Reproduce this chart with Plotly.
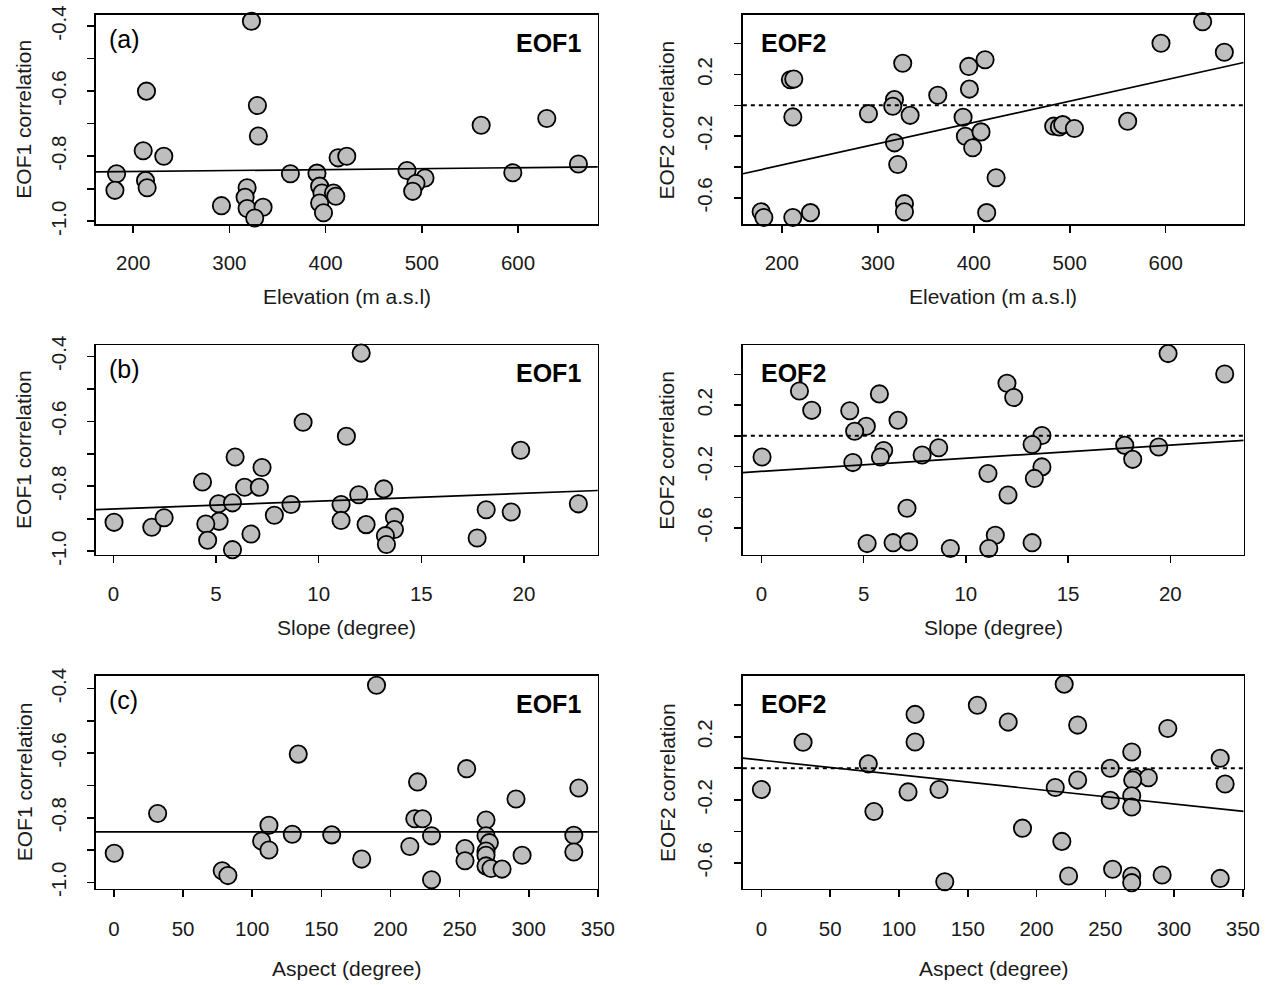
import plotly.graph_objects as go

# ---------------- data ----------------
elev_eof1_x = [322.9, 213.8, 329.1, 330.1, 210.4, 231.8, 182.7, 181.0, 212.8, 214.5, 291.7, 318.4, 316.3, 318.4, 335.0, 326.3, 363.4,
               391.0, 393.8, 396.2, 393.8, 397.8, 408.2, 410.6, 413.0, 422.0, 484.6, 503.3, 493.9, 490.5, 561.7, 629.9, 594.6, 662.8]
elev_eof1_y = [-0.385, -0.600, -0.644, -0.738, -0.783, -0.800, -0.854, -0.905, -0.875, -0.897, -0.952, -0.897, -0.926, -0.961, -0.957, -0.990, -0.854,
               -0.852, -0.892, -0.913, -0.944, -0.974, -0.913, -0.923, -0.805, -0.800, -0.844, -0.867, -0.884, -0.908, -0.705, -0.684, -0.851, -0.824]

elev_eof2_x = [638.5, 595.1, 661.1, 326.0, 394.8, 411.8, 209.0, 212.5, 395.5, 362.5, 317.4, 315.6, 211.5, 290.3, 333.7, 388.9, 391.3,
               407.6, 398.9, 317.4, 320.8, 423.3, 327.8, 327.8, 413.5, 178.5, 181.3, 211.5, 229.9, 483.3, 489.2, 492.7, 504.9, 560.4]
elev_eof2_y = [0.542, 0.402, 0.344, 0.273, 0.252, 0.295, 0.166, 0.170, 0.105, 0.065, 0.037, -0.006, -0.075, -0.054, -0.065, -0.077, -0.200,
               -0.172, -0.275, -0.243, -0.383, -0.469, -0.637, -0.690, -0.695, -0.690, -0.727, -0.727, -0.695, -0.135, -0.140, -0.125, -0.150, -0.103]

slope_eof1_x = [12.07, 9.24, 11.35, 19.84, 5.93, 7.24, 4.34, 6.39, 7.11, 13.17, 11.95, 5.12, 5.80, 8.65, 11.09, 22.65, 18.16,
                19.38, 0.03, 1.87, 2.47, 5.15, 4.50, 7.84, 11.09, 12.31, 13.69, 13.69, 13.25, 13.30, 4.59, 6.70, 5.80, 17.72]
slope_eof1_y = [-0.390, -0.603, -0.646, -0.689, -0.710, -0.742, -0.787, -0.803, -0.803, -0.808, -0.826, -0.854, -0.851, -0.856, -0.856, -0.854, -0.872,
                -0.879, -0.911, -0.926, -0.897, -0.908, -0.916, -0.889, -0.905, -0.918, -0.895, -0.933, -0.952, -0.979, -0.966, -0.947, -0.995, -0.959]

slope_eof2_x = [19.89, 22.66, 1.86, 5.77, 12.01, 12.34, 2.46, 4.32, 6.68, 5.13, 4.56, 13.72, 13.24, 0.03, 5.98, 5.82, 4.47,
                7.86, 8.67, 17.77, 18.16, 19.43, 11.08, 13.72, 13.35, 12.06, 7.12, 5.17, 6.44, 7.20, 9.24, 11.44, 11.12, 13.24]
slope_eof2_y = [0.535, 0.402, 0.292, 0.273, 0.342, 0.249, 0.166, 0.163, 0.101, 0.062, 0.030, 0.002, -0.056, -0.138, -0.095, -0.138, -0.174,
                -0.125, -0.077, -0.062, -0.153, -0.073, -0.245, -0.202, -0.277, -0.385, -0.471, -0.701, -0.695, -0.690, -0.733, -0.647, -0.733, -0.695]

aspect_eof1_x = [189.9, 133.3, 255.1, 219.6, 336.2, 290.8, 31.6, 217.6, 223.2, 269.1, 112.1, 129.0, 157.5, 229.7, 269.1, 332.6, 106.8,
                 112.1, 271.5, 214.0, 253.9, 269.1, 0.2, 332.6, 295.2, 269.1, 179.2, 253.9, 269.1, 272.7, 280.7, 78.3, 82.4, 229.7]
aspect_eof1_y = [-0.390, -0.603, -0.648, -0.689, -0.708, -0.742, -0.787, -0.803, -0.803, -0.807, -0.823, -0.851, -0.853, -0.856, -0.856, -0.854, -0.872,
                 -0.900, -0.877, -0.889, -0.895, -0.903, -0.910, -0.906, -0.916, -0.916, -0.928, -0.933, -0.949, -0.957, -0.959, -0.964, -0.979, -0.992]

aspect_eof2_x = [220.1, 157.0, 111.7, 179.4, 229.9, 295.4, 30.3, 111.7, 269.2, 333.5, 77.7, 253.6, 271.1, 281.3, 269.9, 229.9, 213.6,
                 337.1, 0.0, 106.6, 129.1, 269.2, 253.6, 269.2, 81.8, 189.8, 218.4, 255.3, 223.3, 269.2, 269.2, 291.3, 333.5, 133.3]
aspect_eof2_y = [0.534, 0.400, 0.342, 0.293, 0.274, 0.252, 0.165, 0.167, 0.103, 0.064, 0.028, 0.000, -0.060, -0.060, -0.075, -0.075, -0.122,
                 -0.100, -0.135, -0.150, -0.135, -0.175, -0.203, -0.246, -0.274, -0.380, -0.464, -0.641, -0.684, -0.684, -0.726, -0.677, -0.699, -0.720]

# regression fits: (intercept, slope)
fit_elev_eof1 = (-0.8527, 0.000029)
fit_elev_eof2 = (-0.663, 0.00138)
fit_slope_eof1 = (-0.870, 0.00242)
fit_slope_eof2 = (-0.231, 0.00853)
fit_aspect_eof1 = (-0.844, 0.0)
fit_aspect_eof2 = (0.0514, -0.000928)

# tick labels
elev_ticks = [200, 300, 400, 500, 600]
slope_ticks = [0, 5, 10, 15, 20]
aspect_ticks = [0, 50, 100, 150, 200, 250, 300, 350]
eof1_ticks = [-1.0, -0.9, -0.8, -0.7, -0.6, -0.5, -0.4]
eof1_labels = ["-1.0", "", "-0.8", "", "-0.6", "", "-0.4"]
eof2_ticks = [-0.6, -0.4, -0.2, 0.0, 0.2, 0.4]
eof2_labels = ["-0.6", "", "-0.2", "", "0.2", ""]

x_titles = ["Elevation (m a.s.l)", "Slope (degree)", "Aspect (degree)"]
panel_tags = ["(a)", "(b)", "(c)"]

# ---------------- layout geometry ----------------
W, H = 1285, 996
# mapping from target picture pixels to figure pixels (calibrated)
AX, SX = 0.0, 0.987
AY, SY = 8.0, 0.978
def fx(r):
    return (r - AX) / SX
def fy(r):
    return (r - AY) / SY

FONT = "Arial, Liberation Sans, sans-serif"

panels = [
    # x, y, fit, xticks, xrange, yrange, eof, row, col
    (elev_eof1_x, elev_eof1_y, fit_elev_eof1, elev_ticks, [161.3, 683.0], [-1.009, -0.366], 1, 0, 0),
    (elev_eof2_x, elev_eof2_y, fit_elev_eof2, elev_ticks, [159.4, 681.3], [-0.770, 0.585], 2, 0, 1),
    (slope_eof1_x, slope_eof1_y, fit_slope_eof1, slope_ticks, [-0.85, 23.6], [-1.010, -0.366], 1, 1, 0),
    (slope_eof2_x, slope_eof2_y, fit_slope_eof2, slope_ticks, [-0.91, 23.59], [-0.772, 0.589], 2, 1, 1),
    (aspect_eof1_x, aspect_eof1_y, fit_aspect_eof1, aspect_ticks, [-13.0, 350.0], [-1.020, -0.360], 1, 2, 0),
    (aspect_eof2_x, aspect_eof2_y, fit_aspect_eof2, aspect_ticks, [-13.5, 350.6], [-0.765, 0.588], 2, 2, 1),
]

col_px = [(96, 598), (743, 1244)]
row_px = [(14, 223), (344, 553), (674, 887)]
xtitle_shift = [71, 71, 78]
xtick_standoff = [13, 13, 14]
ytick_standoff = [13, 14]
ytitle_shift = [71, 75]

fig = go.Figure()
shapes = []
annotations = []
layout = {}

for i, (xs, ys, fit, xt, xr, yr, eof, row, col) in enumerate(panels):
    n = i + 1
    xa = "x" if n == 1 else f"x{n}"
    ya = "y" if n == 1 else f"y{n}"
    xkey = "xaxis" if n == 1 else f"xaxis{n}"
    ykey = "yaxis" if n == 1 else f"yaxis{n}"

    fig.add_trace(go.Scatter(
        x=xs, y=ys, mode="markers", xaxis=xa, yaxis=ya, showlegend=False,
        marker=dict(size=17.3, color="#BEBEBE", line=dict(color="black", width=1.8)),
        cliponaxis=False, hoverinfo="skip",
    ))
    b0, b1 = fit
    fig.add_trace(go.Scatter(
        x=[xr[0], xr[1]], y=[b0 + b1 * xr[0], b0 + b1 * xr[1]], mode="lines",
        xaxis=xa, yaxis=ya, showlegend=False, line=dict(color="black", width=1.7),
        hoverinfo="skip",
    ))

    x0p, x1p = col_px[col]
    y0p, y1p = row_px[row]
    layout[xkey] = dict(
        domain=[max(0, fx(x0p) / W), min(1, fx(x1p) / W)], range=xr, anchor=ya,
        tickmode="array", tickvals=xt, ticktext=[str(v) for v in xt],
        ticks="outside", ticklen=7, tickwidth=1.6, tickcolor="black",
        showline=True, linecolor="black", linewidth=1.6, mirror=True,
        showgrid=False, zeroline=False, ticklabelstandoff=round(xtick_standoff[row] / SY),
        tickfont=dict(family=FONT, size=20.5, color="#1a1a1a"),
    )
    if eof == 1:
        tv, tt = eof1_ticks, eof1_labels
    else:
        tv, tt = eof2_ticks, eof2_labels
    layout[ykey] = dict(
        domain=[max(0, 1 - fy(y1p) / H), min(1, 1 - fy(y0p) / H)], range=yr, anchor=xa,
        tickmode="array", tickvals=tv, ticktext=tt, tickangle=-90,
        ticks="outside", ticklen=7, tickwidth=1.6, tickcolor="black",
        showline=True, linecolor="black", linewidth=1.6, mirror=True,
        showgrid=False, zeroline=False, ticklabelstandoff=round(ytick_standoff[col] / SX),
        tickfont=dict(family=FONT, size=20.5, color="#1a1a1a"),
    )

    if eof == 2:
        shapes.append(dict(type="line", xref=f"{xa} domain", yref=ya, x0=0, x1=1, y0=0, y1=0,
                           line=dict(color="black", width=2, dash="4px,4px")))

    annotations.append(dict(text=x_titles[row], xref=f"{xa} domain", yref=f"{ya} domain",
                            x=0.5, y=0, yshift=-xtitle_shift[row] / SY, showarrow=False,
                            xanchor="center", yanchor="middle",
                            font=dict(family=FONT, size=21, color="#1a1a1a")))
    annotations.append(dict(text=f"EOF{eof} correlation", xref=f"{xa} domain", yref=f"{ya} domain",
                            x=0, y=0.5, xshift=-ytitle_shift[col] / SX, showarrow=False,
                            textangle=-90, xanchor="center", yanchor="middle",
                            font=dict(family=FONT, size=21, color="#1a1a1a")))
    if eof == 1:
        annotations.append(dict(text=panel_tags[row], xref=f"{xa} domain", yref=f"{ya} domain",
                                x=0, y=1, xshift=11, yshift=-24, showarrow=False,
                                xanchor="left", yanchor="middle",
                                font=dict(family=FONT, size=25, color="black")))
        annotations.append(dict(text="<b>EOF1</b>", xref=f"{xa} domain", yref=f"{ya} domain",
                                x=1, y=1, xshift=-15, yshift=-28, showarrow=False,
                                xanchor="right", yanchor="middle",
                                font=dict(family=FONT, size=25, color="black")))
    else:
        annotations.append(dict(text="<b>EOF2</b>", xref=f"{xa} domain", yref=f"{ya} domain",
                                x=0, y=1, xshift=16, yshift=-28, showarrow=False,
                                xanchor="left", yanchor="middle",
                                font=dict(family=FONT, size=25, color="black")))

fig.update_layout(
    width=W, height=H, autosize=False,
    margin=dict(l=0, r=0, t=0, b=0),
    paper_bgcolor="white", plot_bgcolor="white",
    showlegend=False, shapes=shapes, annotations=annotations,
    hovermode=False,
    **layout,
)

fig.write_html("out.html", config={"displayModeBar": False, "staticPlot": True},
               post_script="document.body.style.margin='0px';")
